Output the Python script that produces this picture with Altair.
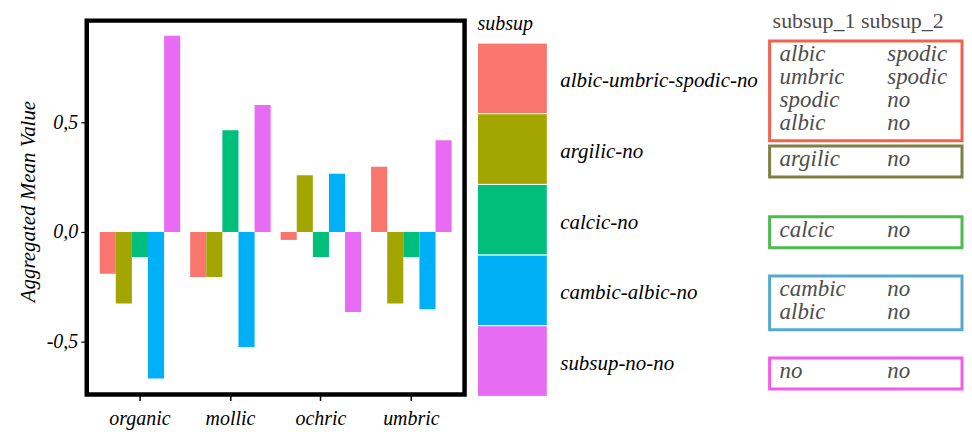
import altair as alt
import pandas as pd

# ---------------- data ----------------
categories = ["organic", "mollic", "ochric", "umbric"]
subsup = ["albic-umbric-spodic-no", "argilic-no", "calcic-no",
          "cambic-albic-no", "subsup-no-no"]

v_albic_umbric_spodic_no = [-0.190, -0.205, -0.036, 0.297]
v_argilic_no = [-0.326, -0.205, 0.259, -0.326]
v_calcic_no = [-0.114, 0.464, -0.114, -0.114]
v_cambic_albic_no = [-0.667, -0.524, 0.265, -0.352]
v_subsup_no_no = [0.894, 0.579, -0.364, 0.418]

bar_colors = ["#F8766D", "#A3A500", "#00BF7D", "#00B0F6", "#E76BF3"]
box_colors = ["#F2604F", "#7F7F45", "#4CBB4C", "#55A8CF", "#F25CE8"]

legend_title = "subsup"
table_header = ["subsup_1", "subsup_2"]
subsup_1 = [["albic", "umbric", "spodic", "albic"], ["argilic"], ["calcic"],
            ["cambic", "albic"], ["no"]]
subsup_2 = [["spodic", "spodic", "no", "no"], ["no"], ["no"],
            ["no", "no"], ["no"]]

y_ticks = [-0.5, 0.0, 0.5]

# ---------------- tables ----------------
series = [v_albic_umbric_spodic_no, v_argilic_no, v_calcic_no,
          v_cambic_albic_no, v_subsup_no_no]
rows = []
for s, vals in zip(subsup, series):
    for c, v in zip(categories, vals):
        rows.append({"category": c, "subsup": s, "value": v})
df = pd.DataFrame(rows)

FONT = "Liberation Serif"
H = 375
color_scale = alt.Scale(domain=subsup, range=bar_colors)

# ---------------- bar chart ----------------
label_expr = ("datum.value < 0 ? '-' + replace(format(-datum.value, '.1f'), '.', ',')"
              " : replace(format(datum.value, '.1f'), '.', ',')")

bars = alt.Chart(df).mark_bar().encode(
    x=alt.X("category:N", sort=categories, title=None,
            scale=alt.Scale(paddingInner=0.11, paddingOuter=0.143),
            axis=alt.Axis(labelAngle=0, domain=False, tickSize=6, tickWidth=1.5,
                          tickColor="black", labelFont=FONT, labelFontStyle="italic",
                          labelFontSize=20, labelColor="black", labelPadding=8)),
    xOffset=alt.XOffset("subsup:N", sort=subsup,
                        scale=alt.Scale(paddingInner=0, paddingOuter=0)),
    y=alt.Y("value:Q",
            scale=alt.Scale(domain=[-0.74, 0.963], nice=False, zero=False),
            axis=alt.Axis(values=y_ticks, labelExpr=label_expr, grid=False, domain=False,
                          tickSize=6, tickWidth=1.2, tickColor="black",
                          labelFont=FONT, labelFontStyle="italic", labelFontSize=20,
                          labelColor="black", labelPadding=3,
                          title="Aggregated Mean Value", titleFont=FONT,
                          titleFontStyle="italic", titleFontWeight="normal",
                          titleFontSize=21, titleColor="black", titlePadding=8,
                          titleY=181)),
    color=alt.Color("subsup:N", sort=subsup, scale=color_scale, legend=None),
).properties(width=379, height=H,
             view=alt.ViewBackground(stroke="black", strokeWidth=4.5))

# ---------------- legend panel ----------------
# vertical slot scale shared by legend and table (one unit = one legend block)
idx_scale = alt.Scale(domain=[-0.318, 4.972], reverse=True, nice=False, zero=False)
TITLE_SLOT = -0.184
HEADER_SLOT = -0.22

leg_df = pd.DataFrame({"subsup": subsup})
leg_df["idx"] = range(len(subsup))
leg_df["idx2"] = leg_df["idx"] + 1
leg_df["mid"] = leg_df["idx"] + 0.5

leg_rects = alt.Chart(leg_df).mark_rect(stroke="white", strokeWidth=1).encode(
    x=alt.value(0), x2=alt.value(70),
    y=alt.Y("idx:Q", scale=idx_scale, axis=None), y2="idx2:Q",
    color=alt.Color("subsup:N", sort=subsup, scale=color_scale, legend=None),
)
leg_text = alt.Chart(leg_df).mark_text(
    align="left", baseline="middle", dy=3, font=FONT, fontStyle="italic",
    fontSize=21, color="black",
).encode(
    x=alt.value(83),
    y=alt.Y("mid:Q", scale=idx_scale, axis=None),
    text="subsup:N",
)
leg_title = alt.Chart(pd.DataFrame({"t": [legend_title], "y": [TITLE_SLOT]})).mark_text(
    align="left", baseline="alphabetic", font=FONT, fontStyle="italic",
    fontSize=20, color="black",
).encode(
    x=alt.value(0),
    y=alt.Y("y:Q", scale=idx_scale, axis=None),
    text="t:N",
)
legend = alt.layer(leg_rects, leg_text, leg_title).properties(width=280, height=H)

# ---------------- side table ----------------
GROUP_SHIFT = 0.24
LINE_STEP = 0.325
trows, boxes = [], []
for g, (c1, c2) in enumerate(zip(subsup_1, subsup_2)):
    n = len(c1)
    centre = g + 0.5 + GROUP_SHIFT
    ys = [centre + (i - (n - 1) / 2) * LINE_STEP for i in range(n)]
    for y, a, b in zip(ys, c1, c2):
        trows.append({"col": 0, "y": y, "txt": a})
        trows.append({"col": 1, "y": y, "txt": b})
    boxes.append({"group": subsup[g], "top": ys[0] - 0.283, "bot": ys[-1] + 0.155})
tdf = pd.DataFrame(trows)
bdf = pd.DataFrame(boxes)

col_scale = alt.Scale(domain=[-0.0926, 1.6944], nice=False, zero=False)

tbl_boxes = alt.Chart(bdf).mark_rect(fill=None, strokeWidth=3).encode(
    x=alt.value(0), x2=alt.value(193),
    y=alt.Y("top:Q", scale=idx_scale, axis=None), y2="bot:Q",
    stroke=alt.Stroke("group:N", sort=subsup,
                      scale=alt.Scale(domain=subsup, range=box_colors), legend=None),
)
tbl_text = alt.Chart(tdf).mark_text(
    align="left", baseline="alphabetic", font=FONT, fontStyle="italic",
    fontSize=23, color="#4D4D4D",
).encode(
    x=alt.X("col:Q", scale=col_scale, axis=None),
    y=alt.Y("y:Q", scale=idx_scale, axis=None),
    text="txt:N",
)
tbl_head = alt.Chart(pd.DataFrame({"t": [" ".join(table_header)], "y": [HEADER_SLOT]})).mark_text(
    align="left", baseline="alphabetic", font=FONT, fontSize=22, color="#4D4D4D",
).encode(
    x=alt.value(3),
    y=alt.Y("y:Q", scale=idx_scale, axis=None),
    text="t:N",
)
table = alt.layer(tbl_boxes, tbl_text, tbl_head).properties(
    width=193, height=H,
).resolve_scale(x="independent", y="shared")

chart = alt.hconcat(bars, legend, table, spacing=13, bounds="flush").resolve_scale(
    color="shared"
).configure(
    padding={"left": 7, "top": 0, "right": 0, "bottom": 0}
).configure_view(stroke="transparent")

chart.save("out.html", embed_options={"renderer": "svg", "actions": False})
